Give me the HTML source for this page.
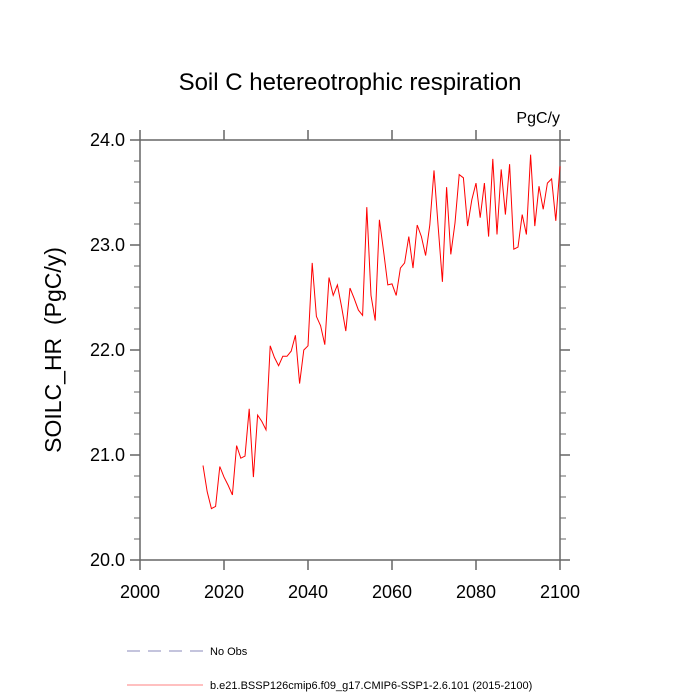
<!DOCTYPE html>
<html><head><meta charset="utf-8"><style>
body{margin:0;background:#fff;}
svg{display:block;font-family:"Liberation Sans",sans-serif;}
</style></head><body>
<svg id="chart" width="700" height="700">
<text x="350" y="90" text-anchor="middle" font-size="24">Soil C hetereotrophic respiration</text>
<text x="560" y="123" text-anchor="end" font-size="16">PgC/y</text>
<text transform="translate(61,350) rotate(-90)" text-anchor="middle" font-size="23">SOILC_HR&#160;&#160;(PgC/y)</text>
<g id="axes"></g>
<g id="series"></g>
<g>
<line x1="127" y1="651" x2="203" y2="651" stroke="#8888bb" stroke-width="1" stroke-dasharray="13,8"/>
<text x="210" y="655" font-size="11">No Obs</text>
<line x1="127" y1="685" x2="203" y2="685" stroke="#ff8080" stroke-width="1"/>
<text x="210" y="689" font-size="11">b.e21.BSSP126cmip6.f09_g17.CMIP6-SSP1-2.6.101 (2015-2100)</text>
</g>
</svg>
<script>
const years = [];
for (let y = 2015; y <= 2100; y++) years.push(y);
const values = [20.90,20.65,20.49,20.51,20.89,20.79,20.71,20.62,21.09,20.97,20.99,21.44,20.79,21.38,21.32,21.24,22.04,21.93,21.85,21.94,21.94,21.99,22.14,21.68,22.00,22.04,22.83,22.32,22.23,22.05,22.69,22.52,22.62,22.41,22.18,22.59,22.49,22.38,22.33,23.36,22.52,22.28,23.24,22.94,22.62,22.63,22.52,22.78,22.83,23.08,22.78,23.19,23.08,22.90,23.19,23.71,23.17,22.65,23.55,22.91,23.21,23.67,23.64,23.18,23.43,23.59,23.26,23.59,23.08,23.82,23.10,23.72,23.29,23.77,22.96,22.98,23.29,23.10,23.86,23.18,23.56,23.34,23.59,23.63,23.23,23.75];
const xTicks = [2000,2020,2040,2060,2080,2100];
const yTicks = [20.0,21.0,22.0,23.0,24.0];
const xMin=2000,xMax=2100,yMin=20,yMax=24;
const L=140,R=560,T=140,B=560;
const sx=v=>L+(v-xMin)/(xMax-xMin)*(R-L);
const sy=v=>B-(v-yMin)/(yMax-yMin)*(B-T);
const NS="http://www.w3.org/2000/svg";
const ax=document.getElementById('axes');
function mk(tag,attrs,parent){const e=document.createElementNS(NS,tag);for(const k in attrs)e.setAttribute(k,attrs[k]);parent.appendChild(e);return e;}
const col="#666";
const frame=mk('rect',{x:L,y:T,width:R-L,height:B-T,fill:'none',stroke:col,'stroke-width':1.5},ax);


xTicks.forEach(v=>{
  const x=sx(v);
  mk('line',{x1:x,y1:B,x2:x,y2:B+10,stroke:col,'stroke-width':1.5},ax);
  mk('line',{x1:x,y1:T,x2:x,y2:T-10,stroke:col,'stroke-width':1.5},ax);
  const t=mk('text',{x:x,y:B+38,'text-anchor':'middle','font-size':18},ax);
  t.textContent=v;
  
  
});
for(let v=yMin;v<=yMax+1e-9;v+=0.2){
  const y=sy(v);const major=Math.abs(v-Math.round(v))<1e-6;const len=major?10:6;
  mk('line',{x1:L,y1:y,x2:L-len,y2:y,stroke:col,'stroke-width':major?1.5:1},ax);
  mk('line',{x1:R,y1:y,x2:R+len,y2:y,stroke:col,'stroke-width':major?1.5:1},ax);
}
yTicks.forEach(v=>{
  const t=mk('text',{x:L-15,y:sy(v)+6,'text-anchor':'end','font-size':18},ax);
  t.textContent=v.toFixed(1);
  
  
});
const pts=years.map((yr,i)=>sx(yr).toFixed(1)+','+sy(values[i]).toFixed(1)).join(' ');
const line=mk('polyline',{points:pts,fill:'none',stroke:'#ff0000','stroke-width':1},document.getElementById('series'));


</script>
</body></html>
